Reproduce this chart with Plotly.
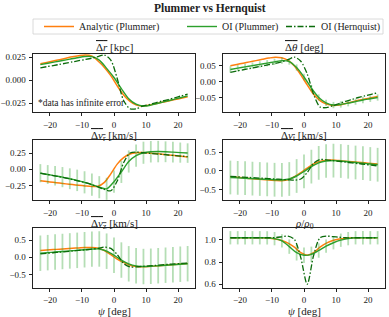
import plotly.graph_objects as go

# ---------------- data ----------------
x_fine = [-23, -21, -19, -17, -15, -13, -11, -9, -7, -5, -3, -1,
          1, 3, 5, 7, 9, 11, 13, 15, 17, 19, 21, 23]
x_oi = [-23.0, -20.7, -18.4, -16.1, -13.8, -11.5, -9.2, -6.9, -4.6, -2.3, 0.0,
        2.3, 4.6, 6.9, 9.2, 11.5, 13.8, 16.1, 18.4, 20.7, 23.0]

# Delta r [kpc]
dr_analytic = [0.018, 0.0195, 0.021, 0.0225, 0.024, 0.0255, 0.0267, 0.0275, 0.0265, 0.021, 0.014, 0.005,
               -0.006, -0.016, -0.023, -0.027, -0.028, -0.027, -0.0255, -0.024, -0.0225, -0.021, -0.0195, -0.018]
dr_oi = [0.017, 0.0185, 0.020, 0.0215, 0.023, 0.0245, 0.0258, 0.0258, 0.022, 0.013, 0.003,
         -0.009, -0.020, -0.026, -0.028, -0.027, -0.025, -0.023, -0.021, -0.019, -0.017]
dr_hern = [0.0135, 0.0148, 0.016, 0.0173, 0.0186, 0.020, 0.0213, 0.0226, 0.024, 0.0258, 0.0275, 0.022,
           0.002, -0.022, -0.031, -0.031, -0.028, -0.0265, -0.0245, -0.0225, -0.021, -0.019, -0.017, -0.015]

# Delta theta [deg]
dth_analytic = [0.051, 0.055, 0.059, 0.063, 0.067, 0.071, 0.075, 0.078, 0.076, 0.068, 0.050, 0.022,
                -0.010, -0.040, -0.060, -0.071, -0.075, -0.074, -0.069, -0.064, -0.059, -0.055, -0.051, -0.047]
dth_oi = [0.039, 0.043, 0.047, 0.051, 0.055, 0.059, 0.063, 0.067, 0.064, 0.045, 0.015,
          -0.020, -0.050, -0.067, -0.074, -0.072, -0.068, -0.063, -0.058, -0.054, -0.050]
dth_hern = [0.030, 0.034, 0.038, 0.042, 0.046, 0.050, 0.054, 0.058, 0.063, 0.070, 0.078, 0.065,
            0.025, -0.040, -0.080, -0.082, -0.076, -0.069, -0.062, -0.056, -0.050, -0.045, -0.040, -0.035]
dth_err = [0.010] * 21

# Delta v_r [km/s]
dvr_analytic = [-0.175, -0.188, -0.200, -0.212, -0.224, -0.235, -0.245, -0.255, -0.263, -0.260, -0.200, -0.070,
                0.080, 0.180, 0.235, 0.255, 0.258, 0.252, 0.243, 0.233, 0.222, 0.211, 0.200, 0.190]
dvr_oi = [-0.060, -0.080, -0.100, -0.120, -0.145, -0.170, -0.200, -0.235, -0.275, -0.300, -0.190,
          -0.040, 0.120, 0.210, 0.255, 0.270, 0.273, 0.270, 0.264, 0.257, 0.250]
dvr_hern = [-0.060, -0.078, -0.096, -0.115, -0.135, -0.157, -0.180, -0.205, -0.235, -0.270, -0.310, -0.330,
            -0.180, 0.100, 0.250, 0.265, 0.255, 0.247, 0.238, 0.229, 0.220, 0.211, 0.203, 0.195]
dvr_err = [0.14, 0.145, 0.15, 0.155, 0.16, 0.165, 0.17, 0.17, 0.17, 0.17, 0.17,
           0.17, 0.17, 0.17, 0.17, 0.165, 0.165, 0.16, 0.16, 0.155, 0.15]

# Delta v_t [km/s]
dvt_analytic = [-0.16, -0.175, -0.19, -0.205, -0.22, -0.235, -0.25, -0.26, -0.265, -0.24, -0.16, -0.05,
                0.07, 0.18, 0.25, 0.28, 0.285, 0.27, 0.255, 0.24, 0.225, 0.21, 0.195, 0.18]
dvt_oi = [-0.18, -0.19, -0.20, -0.21, -0.22, -0.23, -0.24, -0.245, -0.22, -0.14, -0.02,
          0.11, 0.21, 0.26, 0.27, 0.26, 0.24, 0.22, 0.20, 0.18, 0.16]
dvt_hern = [-0.15, -0.16, -0.17, -0.18, -0.19, -0.20, -0.21, -0.22, -0.23, -0.24, -0.25, -0.22,
            -0.05, 0.20, 0.30, 0.29, 0.27, 0.25, 0.23, 0.21, 0.19, 0.17, 0.15, 0.13]
dvt_err = [0.45] * 21

# Delta v_z [km/s]
dvz_analytic = [0.200, 0.213, 0.226, 0.240, 0.252, 0.264, 0.276, 0.288, 0.290, 0.270, 0.200, 0.080,
                -0.050, -0.150, -0.230, -0.270, -0.280, -0.270, -0.255, -0.240, -0.225, -0.210, -0.195, -0.180]
dvz_oi = [0.120, 0.137, 0.154, 0.171, 0.188, 0.205, 0.222, 0.240, 0.245, 0.180, 0.060,
          -0.080, -0.190, -0.250, -0.270, -0.262, -0.247, -0.232, -0.217, -0.202, -0.187]
dvz_hern = [0.100, 0.117, 0.134, 0.151, 0.168, 0.185, 0.202, 0.220, 0.238, 0.260, 0.300, 0.260,
            0.080, -0.180, -0.285, -0.280, -0.265, -0.250, -0.235, -0.220, -0.205, -0.192, -0.180, -0.170]
dvz_err = [0.52] * 21

# rho / rho_0
rho_analytic = [1.02, 1.02, 1.02, 1.02, 1.02, 1.02, 1.017, 1.008, 0.995, 0.972, 0.935, 0.885,
                0.862, 0.885, 0.935, 0.972, 0.995, 1.008, 1.016, 1.02, 1.02, 1.02, 1.02, 1.02]
rho_oi = [1.02, 1.02, 1.02, 1.02, 1.02, 1.019, 1.012, 0.992, 0.940, 0.885, 0.862,
          0.870, 0.905, 0.945, 0.975, 0.998, 1.012, 1.02, 1.02, 1.02, 1.02]
rho_hern = [1.02, 1.02, 1.02, 1.02, 1.02, 1.02, 1.02, 1.022, 1.028, 1.035, 1.005, 0.840,
            0.600, 0.860, 1.020, 1.035, 1.030, 1.025, 1.02, 1.02, 1.02, 1.02, 1.02, 1.02]
rho_err = [0.06, 0.06, 0.06, 0.06, 0.06, 0.06, 0.06, 0.06, 0.065, 0.07, 0.07,
           0.07, 0.065, 0.06, 0.06, 0.06, 0.06, 0.06, 0.06, 0.06, 0.06]

panel_titles = [
    '<span style="text-decoration:overline">Δ<i>r</i></span> [kpc]',
    '<span style="text-decoration:overline">Δ<i>θ</i></span> [deg]',
    '<span style="text-decoration:overline">Δ<i>v</i><sub>r</sub></span> [km/s]',
    '<span style="text-decoration:overline">Δ<i>v</i><sub>t</sub></span> [km/s]',
    '<span style="text-decoration:overline">Δ<i>v</i><sub>z</sub></span> [km/s]',
    '<i>ρ</i>/<i>ρ</i><sub>0</sub>',
]
analytic = [dr_analytic, dth_analytic, dvr_analytic, dvt_analytic, dvz_analytic, rho_analytic]
oi = [dr_oi, dth_oi, dvr_oi, dvt_oi, dvz_oi, rho_oi]
hern = [dr_hern, dth_hern, dvr_hern, dvt_hern, dvz_hern, rho_hern]
errs = [None, dth_err, dvr_err, dvt_err, dvz_err, rho_err]
y_ranges = [[-0.0345, 0.0286], [-0.096, 0.088], [-0.472, 0.451],
            [-0.78, 0.82], [-0.90, 0.86], [0.567, 1.108]]
y_ticks = [[-0.025, 0.0, 0.025], [-0.05, 0.0, 0.05], [-0.25, 0.0, 0.25],
           [-0.5, 0.0, 0.5], [-0.5, 0.0, 0.5], [0.6, 0.8, 1.0]]
y_formats = ['.3f', '.2f', '.2f', '.1f', '.1f', '.1f']
x_ticks = [-20, -10, 0, 10, 20]

# ---------------- layout geometry ----------------
W, H = 389, 317
ML, MR, MT, MB = 33, 4, 54, 29
PW, PH = W - ML - MR, H - MT - MB


def px_x(p):
    return (p - ML) / PW


def px_y(p):
    return 1 - (p - MT) / PH


col_px = [(33, 195), (223, 385)]
row_px = [(54, 112), (140, 200), (228, 288)]
title_offset = [7.5, 4.5, 4.5]

FONT = 'Liberation Serif'
ORANGE = '#ff7f0e'
GREEN = '#2ca02c'
DKGREEN = '#0b6b0b'

fig = go.Figure()
layout = {}
annotations = []
for i in range(6):
    r, c = divmod(i, 2)
    sfx = '' if i == 0 else str(i + 1)
    xa, ya = 'x' + sfx, 'y' + sfx
    first = (i == 0)
    fig.add_trace(go.Scatter(
        x=x_fine, y=analytic[i], xaxis=xa, yaxis=ya, mode='lines',
        line=dict(color=ORANGE, width=1.5, shape='spline', smoothing=0.8),
        name='Analytic (Plummer)', legend='legend', showlegend=first))
    err = errs[i]
    fig.add_trace(go.Scatter(
        x=x_oi, y=oi[i], xaxis=xa, yaxis=ya, mode='lines',
        line=dict(color=GREEN, width=1.4, shape='spline', smoothing=0.8),
        error_y=(dict(type='data', array=err, visible=True, color='rgba(44,160,44,0.35)',
                      thickness=1.8, width=0) if err is not None else None),
        name='OI (Plummer)', legend='legend2', showlegend=first))
    fig.add_trace(go.Scatter(
        x=x_fine, y=hern[i], xaxis=xa, yaxis=ya, mode='lines',
        line=dict(color=DKGREEN, width=1.3, shape='spline', smoothing=0.8,
                  dash='6px,2px,1.5px,2px'),
        name='OI (Hernquist)', legend='legend3', showlegend=first))

    x0, x1 = col_px[c]
    y0, y1 = row_px[r]
    axis_common = dict(showline=True, mirror=True, linecolor='#222', linewidth=0.8,
                       ticks='outside', ticklen=3.5, tickwidth=0.8, tickcolor='#222',
                       showgrid=False, zeroline=False,
                       tickfont=dict(family=FONT, size=9, color='#222'))
    layout['xaxis' + sfx] = dict(axis_common, domain=[px_x(x0), px_x(x1)], anchor=ya,
                                 range=[-25.3, 25.3], tickvals=x_ticks,
                                 ticklabelstandoff=(0 if r == 2 else 1))
    layout['yaxis' + sfx] = dict(axis_common, domain=[px_y(y1), px_y(y0)], anchor=xa,
                                 range=y_ranges[i], tickvals=y_ticks[i],
                                 tickformat=y_formats[i], ticklabelstandoff=1)
    annotations.append(dict(text=panel_titles[i], xref='paper', yref='paper',
                            x=px_x((x0 + x1) / 2), y=px_y(y0 - title_offset[r]),
                            xanchor='center', yanchor='middle', showarrow=False,
                            font=dict(family=FONT, size=11, color='#222')))
    if r == 2:
        annotations.append(dict(text='<i>ψ</i> [deg]', xref='paper', yref='paper',
                                x=px_x((x0 + x1) / 2), y=px_y(310.5), xanchor='center',
                                yanchor='middle', showarrow=False, borderpad=0,
                                font=dict(family=FONT, size=11, color='#222')))

annotations.append(dict(text='*data has infinite error', xref='paper', yref='paper',
                        x=px_x(36), y=px_y(103), xanchor='left', yanchor='middle',
                        showarrow=False, font=dict(family=FONT, size=9.5, color='#222')))
annotations.append(dict(text='<b>Plummer vs Hernquist</b>', xref='paper', yref='paper',
                        x=px_x(209.5), y=px_y(8), xanchor='center', yanchor='middle',
                        showarrow=False, font=dict(family=FONT, size=11.5, color='#222')))

leg_common = dict(orientation='h', bgcolor='rgba(0,0,0,0)', borderwidth=0,
                  font=dict(family=FONT, size=10, color='#222'),
                  yanchor='middle', y=px_y(26.5))
layout['legend'] = dict(leg_common, x=px_x(39), xanchor='left')
layout['legend2'] = dict(leg_common, x=px_x(182), xanchor='left')
layout['legend3'] = dict(leg_common, x=px_x(386), xanchor='right')

fig.update_layout(
    width=W, height=H,
    margin=dict(l=ML, r=MR, t=MT, b=MB, autoexpand=False),
    plot_bgcolor='white', paper_bgcolor='white',
    annotations=annotations,
    shapes=[dict(type='rect', xref='paper', yref='paper',
                 x0=px_x(33), x1=px_x(383), y0=px_y(34), y1=px_y(19),
                 line=dict(color='#d0d0d0', width=0.8))],
    **layout)

fig.write_html('out.html', config={'displayModeBar': False},
               post_script="document.body.style.margin='0';document.body.style.padding='0';")
